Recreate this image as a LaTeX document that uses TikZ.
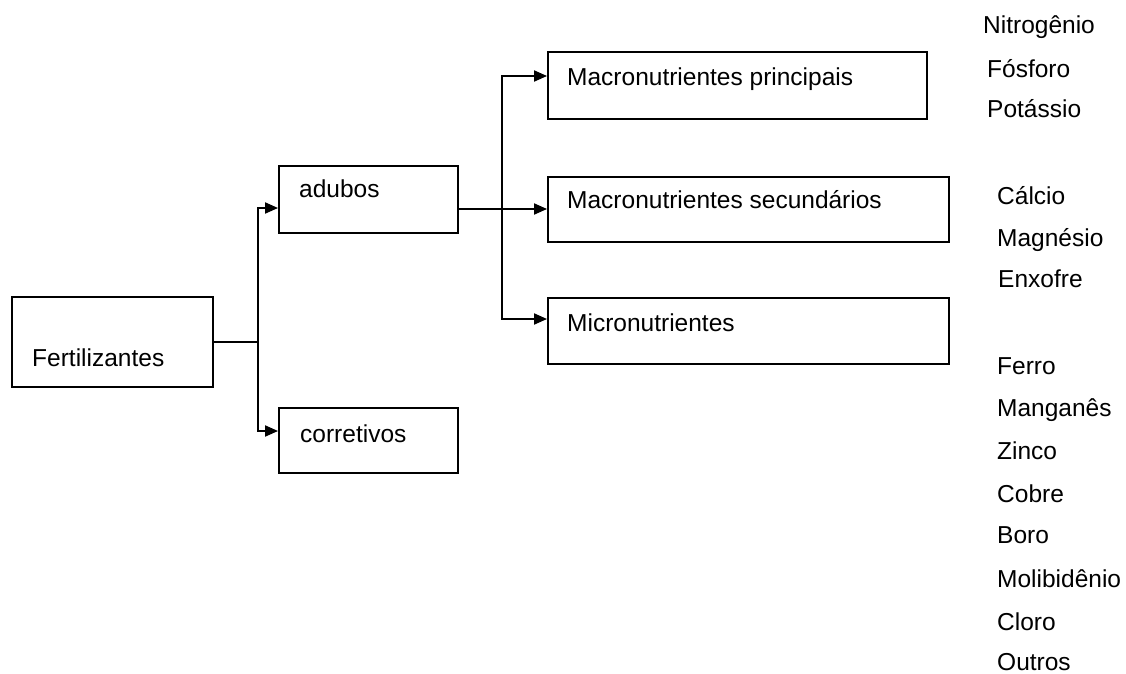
\documentclass[tikz,border=0pt]{standalone}
\usepackage{fontspec}
\setmainfont{Liberation Sans}
\usetikzlibrary{arrows.meta}
\begin{document}
\begin{tikzpicture}[x=1pt,y=-1pt,
  box/.style={draw=black,line width=1.9pt,inner sep=0pt,rectangle},
  lbl/.style={anchor=base west,inner sep=0pt,font=\fontsize{24.5}{29}\selectfont},
  link/.style={draw=black,line width=1.9pt},
  arr/.style={link,-{Triangle[length=13pt,width=11pt]}}]
\useasboundingbox (0,0) rectangle (1126,673);
% boxes
\node[box,minimum width=201pt,minimum height=90pt] (fert) at (112.5,342) {};
\node[box,minimum width=179pt,minimum height=67pt] (adubos) at (368.5,199.5) {};
\node[box,minimum width=179pt,minimum height=65pt] (corret) at (368.5,440.5) {};
\node[box,minimum width=379pt,minimum height=67pt] (mprin) at (737.5,85.5) {};
\node[box,minimum width=401pt,minimum height=65pt] (msec) at (748.5,209.5) {};
\node[box,minimum width=401pt,minimum height=66pt] (micro) at (748.5,331) {};
% box texts
\node[lbl] (tfert) at (32,366) {Fertilizantes};
\node[lbl] (tadubos) at (299,197) {adubos};
\node[lbl] (tcorret) at (300,442) {corretivos};
\node[lbl] (tmprin) at (567,85) {Macronutrientes principais};
\node[lbl] (tmsec) at (567,208) {Macronutrientes secundários};
\node[lbl] (tmicro) at (567,331) {Micronutrientes};
% connectors
\coordinate (j1) at (258,342);
\coordinate (ja) at (258,208);
\coordinate (jc) at (258,431);
\draw[link] (fert.east) -- (j1);
\draw[arr] (j1) -- (ja) -- (ja -| adubos.west);
\draw[arr] (j1) -- (jc) -- (jc -| corret.west);
\coordinate (j2) at (502,209);
\coordinate (jp) at (502,76);
\coordinate (jm) at (502,319);
\draw[arr] (adubos.east |- j2) -- (j2 -| msec.west);
\draw[arr] (j2) -- (jp) -- (jp -| mprin.west);
\draw[arr] (j2) -- (jm) -- (jm -| micro.west);
% element lists
\node[lbl] (n1) at (983,33) {Nitrogênio};
\node[lbl] (n2) at (987,77) {Fósforo};
\node[lbl] (n3) at (987,117) {Potássio};
\node[lbl] (s1) at (997,204) {Cálcio};
\node[lbl] (s2) at (997,246) {Magnésio};
\node[lbl] (s3) at (998,287) {Enxofre};
\node[lbl] (m1) at (997,374) {Ferro};
\node[lbl] (m2) at (997,416) {Manganês};
\node[lbl] (m3) at (997,459) {Zinco};
\node[lbl] (m4) at (997,502) {Cobre};
\node[lbl] (m5) at (997,543) {Boro};
\node[lbl] (m6) at (997,587) {Molibidênio};
\node[lbl] (m7) at (997,630) {Cloro};
\node[lbl] (m8) at (997,670) {Outros};
\end{tikzpicture}
\end{document}
